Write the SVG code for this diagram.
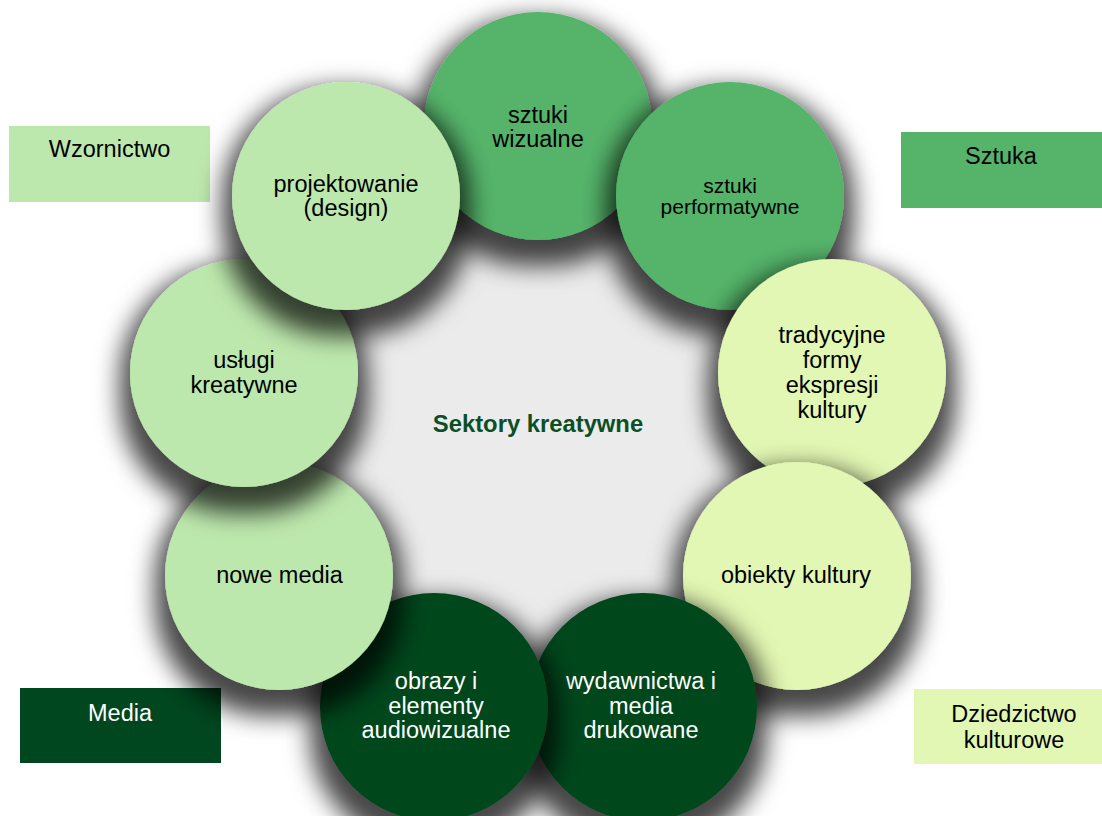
<svg xmlns="http://www.w3.org/2000/svg" width="1102" height="816" viewBox="0 0 1102 816">
  <defs>
    <filter id="sh" x="-50%" y="-50%" width="200%" height="210%">
      <feMorphology in="SourceAlpha" operator="dilate" radius="10" result="d"/>
      <feGaussianBlur in="d" stdDeviation="12" result="b"/>
      <feOffset in="b" dx="0" dy="16" result="o"/>
      <feFlood flood-color="#000" flood-opacity="0.72"/>
      <feComposite in2="o" operator="in" result="s"/>
      <feMerge><feMergeNode in="s"/><feMergeNode in="SourceGraphic"/></feMerge>
    </filter>
  </defs>
  <style>
    text { font-family: "Liberation Sans", Arial, sans-serif; font-size: 23.5px; text-anchor: middle; fill: #000; }
    .w { fill: #fff; }
    .sm { font-size: 21px; }
    .title { font-weight: bold; fill: #0b4f25; font-size: 23.8px; }
    .c { filter: url(#sh); }
    .mid { fill: #55b46a; }
    .lt { fill: #bde8ad; }
    .yl { fill: #e2f7b3; }
    .dk { fill: #00461e; }
  </style>
  <rect width="1102" height="816" fill="#fff"/>

  <g id="legend-wzornictwo">
    <rect class="lt" x="9" y="126" width="201" height="76"/>
    <text x="109.5" y="157">Wzornictwo</text>
  </g>
  <g id="legend-sztuka">
    <rect class="mid" x="901" y="132" width="201" height="76"/>
    <text x="1001" y="164">Sztuka</text>
  </g>
  <g id="legend-media">
    <rect class="dk" x="20" y="688" width="201" height="75"/>
    <text class="w" x="120" y="721">Media</text>
  </g>
  <g id="legend-dziedzictwo">
    <rect class="yl" x="914" y="689" width="201" height="75"/>
    <text x="1014" y="722">Dziedzictwo</text>
    <text x="1014" y="748">kulturowe</text>
  </g>

  <g id="center">
    <circle cx="538" cy="425" r="250" fill="#ebebeb"/>
  </g>

  <g id="connectors"></g>

  <g id="sztuki-wizualne">
    <circle class="c mid" cx="538" cy="126" r="114"/>
    <text x="538" y="123">sztuki</text>
    <text x="538" y="147">wizualne</text>
  </g>
  <g id="sztuki-performatywne">
    <circle class="c mid" cx="730" cy="196" r="114"/>
    <text class="sm" x="730" y="193">sztuki</text>
    <text class="sm" x="730" y="214">performatywne</text>
  </g>
  <g id="tradycyjne">
    <circle class="c yl" cx="832" cy="373" r="114"/>
    <text x="832" y="343">tradycyjne</text>
    <text x="832" y="368">formy</text>
    <text x="832" y="393">ekspresji</text>
    <text x="832" y="418">kultury</text>
  </g>
  <g id="obiekty-kultury">
    <circle class="c yl" cx="797" cy="576" r="114"/>
    <text x="796" y="583">obiekty kultury</text>
  </g>
  <g id="wydawnictwa">
    <circle class="c dk" cx="643" cy="707" r="114"/>
    <text class="w" x="641" y="689">wydawnictwa i</text>
    <text class="w" x="641" y="714">media</text>
    <text class="w" x="641" y="738">drukowane</text>
  </g>
  <g id="obrazy">
    <circle class="c dk" cx="434" cy="707" r="114"/>
    <text class="w" x="436" y="689">obrazy i</text>
    <text class="w" x="436" y="714">elementy</text>
    <text class="w" x="436" y="738">audiowizualne</text>
  </g>
  <g id="nowe-media">
    <circle class="c lt" cx="279" cy="576" r="114"/>
    <text x="279.5" y="583">nowe media</text>
  </g>
  <g id="uslugi-kreatywne">
    <circle class="c lt" cx="244" cy="373" r="114"/>
    <text x="244" y="368">usługi</text>
    <text x="244" y="393">kreatywne</text>
  </g>
  <g id="projektowanie">
    <circle class="c lt" cx="346" cy="196" r="114"/>
    <text x="346" y="192">projektowanie</text>
    <text x="346" y="216">(design)</text>
  </g>

  <g id="title">
    <text class="title" x="538" y="432">Sektory kreatywne</text>
  </g>
</svg>
